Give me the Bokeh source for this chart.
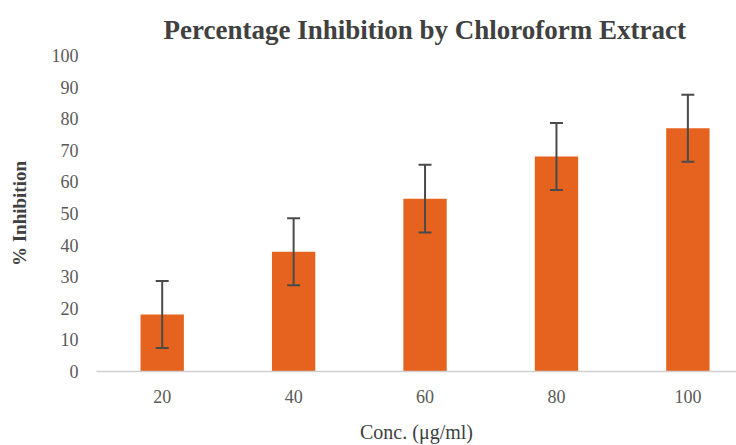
from bokeh.plotting import figure
from bokeh.models import ColumnDataSource, Range1d, FixedTicker, Whisker, TeeHead
from bokeh.embed import file_html
from bokeh.resources import INLINE

concentrations = ["20", "40", "60", "80", "100"]
inhibition = [18.0, 37.9, 54.7, 68.0, 77.0]
errors = [10.6, 10.6, 10.7, 10.6, 10.6]
y_ticks = [0, 10, 20, 30, 40, 50, 60, 70, 80, 90, 100]

xs = list(range(len(concentrations)))
src = ColumnDataSource(dict(
    x=xs,
    top=inhibition,
    upper=[v + e for v, e in zip(inhibition, errors)],
    lower=[v - e for v, e in zip(inhibition, errors)],
))

FONT = "Liberation Serif"

p = figure(width=736, height=445, output_backend="svg", toolbar_location=None,
           x_range=Range1d(-0.5, 4.37), y_range=Range1d(0, 100),
           title="Percentage Inhibition  by Chloroform  Extract")
p.min_border_left = 96
p.min_border_right = 0
p.min_border_top = 55
p.min_border_bottom = 74
p.outline_line_color = None
p.background_fill_color = "white"
p.border_fill_color = "white"

p.title.text_font = FONT
p.title.text_font_size = "27px"
p.title.text_font_style = "bold"
p.title.text_color = "#404040"
p.title.align = "left"
p.title.offset = 67
p.title.standoff = 21

p.vbar(x="x", top="top", width=0.33, bottom=0, source=src,
       fill_color="#E6631F", line_color=None)

w = Whisker(base="x", upper="upper", lower="lower", source=src,
            line_color="#4a4a4a", line_width=2, level="overlay",
            upper_head=TeeHead(size=13, line_color="#4a4a4a", line_width=2),
            lower_head=TeeHead(size=13, line_color="#4a4a4a", line_width=2))
p.add_layout(w)

p.xgrid.visible = False
p.ygrid.visible = False

p.xaxis.ticker = FixedTicker(ticks=xs)
p.xaxis.major_label_overrides = {i: c for i, c in zip(xs, concentrations)}
p.xaxis.axis_line_color = "#d0d0d0"
p.xaxis.axis_line_width = 1.5
p.xaxis.major_tick_line_color = None
p.xaxis.minor_tick_line_color = None
p.xaxis.major_label_standoff = 12
p.xaxis.axis_label = "Conc. (μg/ml)"
p.xaxis.axis_label_standoff = 15
p.xaxis.axis_label_text_font = FONT
p.xaxis.axis_label_text_font_size = "20px"
p.xaxis.axis_label_text_font_style = "normal"
p.xaxis.axis_label_text_color = "#404040"

p.yaxis.ticker = FixedTicker(ticks=y_ticks)
p.yaxis.axis_line_color = None
p.yaxis.major_tick_line_color = None
p.yaxis.minor_tick_line_color = None
p.yaxis.major_label_standoff = 12
p.yaxis.axis_label = "% Inhibition"
p.yaxis.axis_label_standoff = 19
p.yaxis.axis_label_text_font = FONT
p.yaxis.axis_label_text_font_size = "19px"
p.yaxis.axis_label_text_font_style = "bold"
p.yaxis.axis_label_text_color = "#404040"

for ax in (p.xaxis, p.yaxis):
    ax.major_label_text_font = FONT
    ax.major_label_text_font_size = "18px"
    ax.major_label_text_color = "#595959"

open("out.html", "w").write(file_html(p, INLINE))
